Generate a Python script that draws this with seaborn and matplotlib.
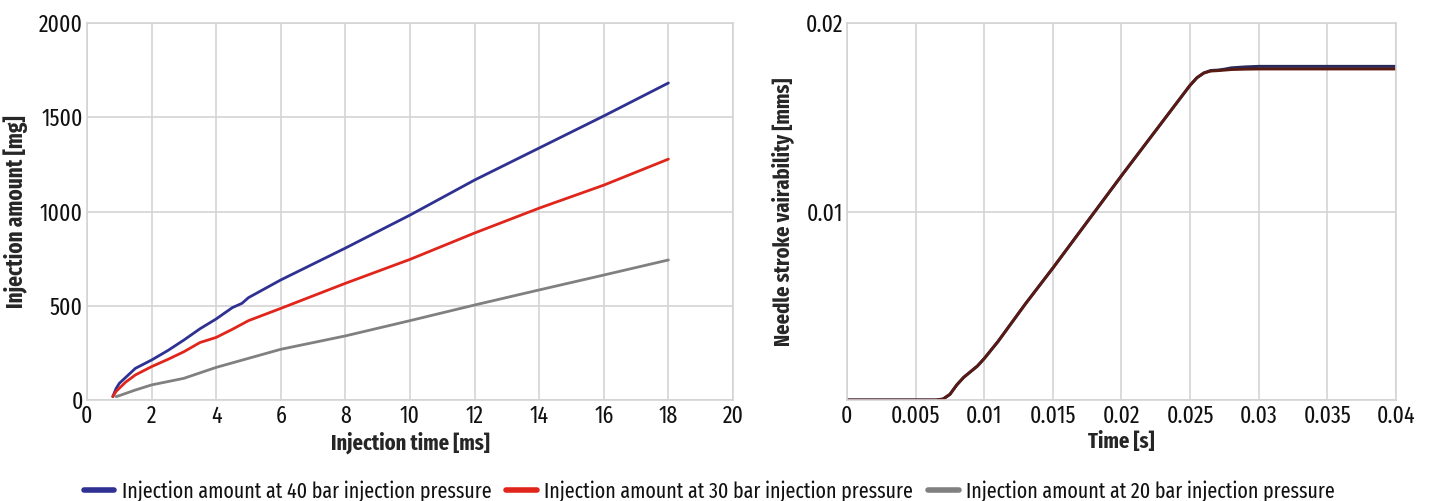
import matplotlib
matplotlib.use("Agg")
import matplotlib.pyplot as plt
import numpy as np
import pandas as pd
import seaborn as sns

# left panel: injection amount vs injection time
t40 = [0.8, 0.9, 1.0, 1.2, 1.5, 2.0, 2.5, 3.0, 3.5, 4.0, 4.5, 4.8, 5.0, 6.0, 8.0, 10.0, 12.0, 14.0, 16.0, 18.0]
m40 = [18, 60, 88, 120, 168, 212, 262, 318, 378, 430, 490, 513, 543, 637, 806, 981, 1167, 1337, 1507, 1682]
t30 = [0.8, 0.9, 1.0, 1.2, 1.5, 2.0, 2.5, 3.0, 3.5, 4.0, 4.5, 5.0, 6.0, 8.0, 10.0, 12.0, 14.0, 16.0, 18.0]
m30 = [18, 45, 62, 95, 133, 177, 215, 256, 305, 332, 375, 421, 486, 619, 746, 886, 1018, 1140, 1278]
t20 = [0.9, 1.0, 1.5, 2.0, 3.0, 4.0, 5.0, 6.0, 8.0, 10.0, 12.0, 14.0, 16.0, 18.0]
m20 = [18, 23, 53, 80, 115, 173, 221, 269, 340, 421, 504, 584, 663, 743]

# right panel: needle stroke vs time
ts = [0, 0.0065, 0.007, 0.0075, 0.008, 0.0085, 0.009, 0.0095, 0.010, 0.011, 0.012, 0.013,
      0.015, 0.020, 0.025, 0.0255, 0.026, 0.0265, 0.027, 0.0275, 0.028, 0.029, 0.030, 0.035, 0.040]
s_blue = [0, 0, 0.00005, 0.0003, 0.0008, 0.0012, 0.0015, 0.0018, 0.0022, 0.0031, 0.0041, 0.0051,
          0.0070, 0.0119, 0.0167, 0.0171, 0.01735, 0.01748, 0.0175, 0.01755, 0.01762, 0.01767, 0.0177, 0.0177, 0.0177]
s_red = [0, 0, 0.00005, 0.0003, 0.0008, 0.0012, 0.0015, 0.0018, 0.0022, 0.0031, 0.0041, 0.0051,
         0.0070, 0.0119, 0.0167, 0.0171, 0.01735, 0.01745, 0.01747, 0.0175, 0.01753, 0.01755, 0.01756, 0.01756, 0.01756]

labels = ["Injection amount at 40 bar injection pressure",
          "Injection amount at 30 bar injection pressure",
          "Injection amount at 20 bar injection pressure"]
colors = ["#2e3192", "#e0251b", "#808080"]

sns.set_style("white")
plt.rcParams["font.family"] = ["Fira Sans Extra Condensed", "Liberation Sans Narrow", "DejaVu Sans"]
plt.rcParams["text.color"] = "#111111"

fig = plt.figure(figsize=(14.3, 5.01), dpi=100)
ax1 = fig.add_axes([0.0608, 0.2016, 0.4518, 0.7524])
ax2 = fig.add_axes([0.5923, 0.2016, 0.3839, 0.7524])

df_left = pd.concat([
    pd.DataFrame({"t": t40, "m": m40, "s": labels[0]}),
    pd.DataFrame({"t": t30, "m": m30, "s": labels[1]}),
    pd.DataFrame({"t": t20, "m": m20, "s": labels[2]}),
])
sns.lineplot(data=df_left, x="t", y="m", hue="s", palette=colors, linewidth=2,
             ax=ax1, legend=False, sort=False)

sns.lineplot(x=ts, y=s_blue, color="#2a2a5a", linewidth=2.2, ax=ax2)
sns.lineplot(x=ts, y=s_red, color="#5a1a10", linewidth=2.0, ax=ax2)

gridc = "#d4d4d4"
for ax in (ax1, ax2):
    ax.grid(True, color=gridc, linewidth=1.2)
    ax.set_axisbelow(True)
    for sp in ax.spines.values():
        sp.set_color(gridc)
        sp.set_linewidth(1.2)
    ax.tick_params(length=0, labelsize=17, pad=3, labelcolor="#111111")

ax1.set_xlim(0, 20)
ax1.set_ylim(0, 2000)
ax1.set_xticks(range(0, 21, 2))
ax1.set_yticks([0, 500, 1000, 1500, 2000])
ax1.set_xlabel("Injection time [ms]", fontsize=16, fontweight="bold", labelpad=3)
ax1.set_ylabel("Injection amount [mg]", fontsize=16.5, fontweight="bold", labelpad=8)

ax2.set_xlim(0, 0.04)
ax2.set_ylim(0, 0.02)
xt = [0, 0.005, 0.01, 0.015, 0.02, 0.025, 0.03, 0.035, 0.04]
ax2.set_xticks(xt)
ax2.set_xticklabels(["0", "0.005", "0.01", "0.015", "0.02", "0.025", "0.03", "0.035", "0.04"])
ax2.set_yticks([0, 0.01, 0.02])
ax2.set_yticklabels(["", "0.01", "0.02"])
ax2.set_xlabel("Time [s]", fontsize=16, fontweight="bold", labelpad=3)
ax2.set_ylabel("Needle stroke vairability [mms]", fontsize=16, fontweight="bold", labelpad=8)

handles = [plt.Line2D([], [], color=c, linewidth=4) for c in colors]
fig.legend(handles, labels, loc="lower center", bbox_to_anchor=(0.496, -0.04), ncol=3,
           frameon=False, fontsize=15.6, handlelength=1.4, handletextpad=0.35, columnspacing=0.7)

fig.savefig("out.png", dpi=100)
